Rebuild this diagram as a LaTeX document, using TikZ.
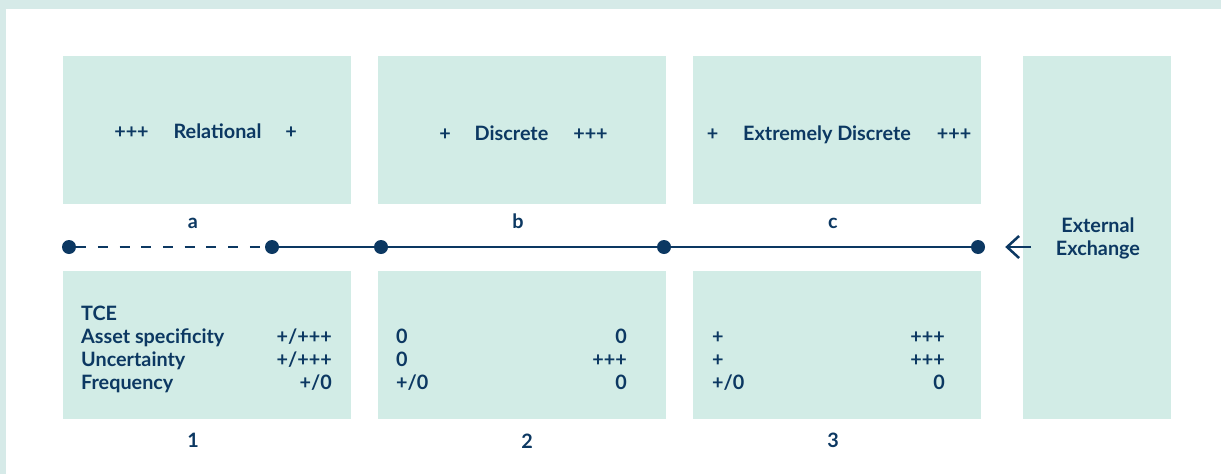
\documentclass[tikz,border=0pt]{standalone}
\usepackage{fontspec}
\setmainfont{Lato}
\usetikzlibrary{arrows.meta}
\definecolor{mint}{RGB}{210,236,230}
\definecolor{band}{RGB}{214,234,232}
\definecolor{navy}{RGB}{12,56,98}
\tikzset{
  panel/.style={fill=mint, draw=none, inner sep=0pt, minimum width=288pt, minimum height=148pt},
  txt/.style={text=navy, font=\fontsize{19.8}{23}\selectfont\bfseries, inner sep=0pt},
  dot/.style={circle, fill=navy, inner sep=0pt, minimum size=14pt},
  axis/.style={draw=navy, line width=2.5pt},
}
\begin{document}
\begin{tikzpicture}[x=1pt,y=-1pt]
  % page frame
  \fill[band] (0,0) rectangle (1221,474);
  \fill[white] (6,9) rectangle (1221,474);
  \useasboundingbox (0,0) rectangle (1221,474);

  % upper panels
  \node[panel] (ua) at (207,130) {};
  \node[panel] (ub) at (522,130) {};
  \node[panel] (uc) at (837,130) {};
  % lower panels
  \node[panel] (la) at (207,345) {};
  \node[panel] (lb) at (522,345) {};
  \node[panel] (lc) at (837,345) {};
  % external exchange column
  \node[panel, minimum width=148pt, minimum height=363pt] (ext) at (1097,237.5) {};

  % titles of the upper panels
  \node[txt, anchor=base] (ta1) at (131.5,138) {+++};
  \node[txt, anchor=base] (ta2) at (217.5,138) {Relational};
  \node[txt, anchor=base] (ta3) at (291,138) {+};
  \node[txt, anchor=base] (tb1) at (445,140) {+};
  \node[txt, anchor=base] (tb2) at (511.5,140) {Discrete};
  \node[txt, anchor=base] (tb3) at (590.5,140) {+++};
  \node[txt, anchor=base] (tc1) at (712.5,140) {+};
  \node[txt, anchor=base] (tc2) at (827,140) {Extremely Discrete};
  \node[txt, anchor=base] (tc3) at (954,140) {+++};

  % letters above the axis
  \node[txt, anchor=base] (la-a) at (193,228) {a};
  \node[txt, anchor=base] (la-b) at (518,228) {b};
  \node[txt, anchor=base] (la-c) at (833,228) {c};

  % axis with its points
  \node[dot] (d0) at (69,247) {};
  \node[dot] (d1) at (272,247) {};
  \node[dot] (d2) at (381,247) {};
  \node[dot] (d3) at (664,247) {};
  \node[dot] (d4) at (978,247) {};
  \draw[axis, dash pattern=on 10pt off 11.7pt] (d0) -- (d1);
  \draw[axis] (d1) -- (d2) -- (d3) -- (d4);

  % external exchange label and arrow
  \node[txt, align=center] (extl) at (1098,238) {External\\Exchange};
  \coordinate (arrtail) at (1031,247);
  \draw[axis, -{Straight Barb[length=12pt, width=22pt, line width=2.5pt]}, shorten >=20pt] (arrtail) -- (d4);

  % TCE column
  \node[txt, anchor=base west] (tce) at (81,320) {TCE};
  \node[txt, anchor=base west] (r1) at (81,343) {Asset specificity};
  \node[txt, anchor=base west] (r2) at (81,366) {Uncertainty};
  \node[txt, anchor=base west] (r3) at (81,389) {Frequency};
  \node[txt, anchor=base east] (v1a) at (332,343) {+/+++};
  \node[txt, anchor=base east] (v2a) at (332,366) {+/+++};
  \node[txt, anchor=base east] (v3a) at (332,389) {+/0};

  % second panel values
  \node[txt, anchor=base west] (b1l) at (396,343) {0};
  \node[txt, anchor=base west] (b2l) at (396,366) {0};
  \node[txt, anchor=base west] (b3l) at (396,389) {+/0};
  \node[txt, anchor=base east] (b1r) at (627,343) {0};
  \node[txt, anchor=base east] (b2r) at (627,366) {+++};
  \node[txt, anchor=base east] (b3r) at (627,389) {0};

  % third panel values
  \node[txt, anchor=base west] (c1l) at (712,343) {+};
  \node[txt, anchor=base west] (c2l) at (712,366) {+};
  \node[txt, anchor=base west] (c3l) at (712,389) {+/0};
  \node[txt, anchor=base east] (c1r) at (945,343) {+++};
  \node[txt, anchor=base east] (c2r) at (945,366) {+++};
  \node[txt, anchor=base east] (c3r) at (945,389) {0};

  % numbers below the lower panels
  \node[txt, anchor=base] (n1) at (193,447) {1};
  \node[txt, anchor=base] (n2) at (527,448) {2};
  \node[txt, anchor=base] (n3) at (833,447) {3};
\end{tikzpicture}
\end{document}
